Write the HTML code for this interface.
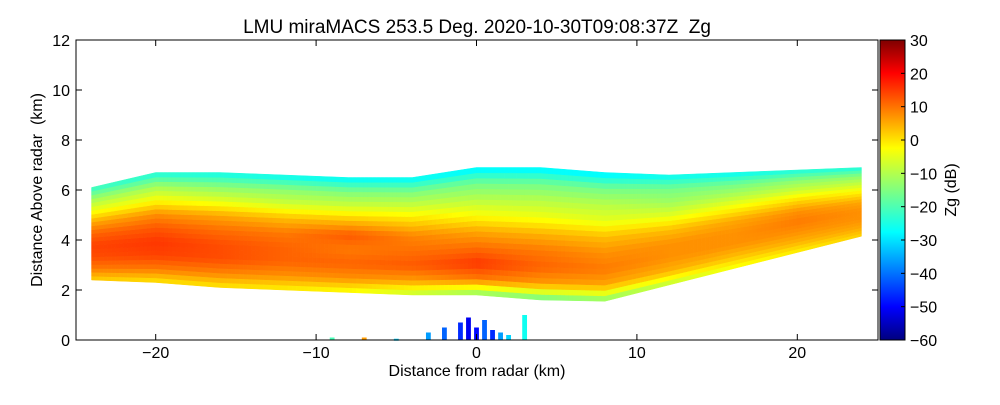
<!DOCTYPE html>
<html><head><meta charset="utf-8"><style>
body{margin:0;background:#fff;}
svg text{font-family:"Liberation Sans",sans-serif;fill:#000;}
</style></head><body>
<svg id="chart" width="1000" height="400" xmlns="http://www.w3.org/2000/svg">
<defs>
<linearGradient id="jet" x1="0" y1="1" x2="0" y2="0">
<stop offset="0" stop-color="#00007f"/><stop offset="0.11" stop-color="#0000ff"/>
<stop offset="0.36" stop-color="#00ffff"/><stop offset="0.5" stop-color="#80ff80"/>
<stop offset="0.64" stop-color="#ffff00"/><stop offset="0.89" stop-color="#ff0000"/>
<stop offset="1" stop-color="#7f0000"/></linearGradient>
</defs>
<text x="477" y="33" font-size="19" text-anchor="middle">LMU miraMACS 253.5 Deg. 2020-10-30T09:08:37Z&#160;&#160;Zg</text>
<g id="marks"></g>
<rect x="76" y="40" width="802" height="300" fill="none" stroke="#000" stroke-width="1"/>
<g id="axes"></g>
<rect x="880" y="40" width="25" height="300" fill="url(#jet)" stroke="#000"/>
<g id="cbar"></g>
<text x="477" y="376" font-size="16" text-anchor="middle">Distance from radar (km)</text>
<text transform="translate(42,190) rotate(-90)" font-size="16" text-anchor="middle">Distance Above radar&#160;&#160;(km)</text>
<text transform="translate(956,190) rotate(-90)" font-size="16" text-anchor="middle">Zg (dB)</text>
</svg>
<script>
const colX=[-24,-20,-16,-12,-8,-4,0,4,8,12,16,20,24];
const bandBottom=[2.4,2.3,2.1,2.0,1.9,1.8,1.8,1.6,1.55,2.2,2.85,3.5,4.15];
const bandTop=[6.1,6.7,6.7,6.6,6.5,6.5,6.9,6.9,6.7,6.6,6.7,6.8,6.9];
const profiles=[
[0,8,12,13,10,4,-5,-12,-22],
[-2,8,13,14,11,6,-4,-12,-24],
[-2,7,12,12,9,4,-6,-14,-25],
[-3,6,10,10,8,2,-8,-14,-26],
[-5,6,10,8,11,2,-8,-15,-27],
[-10,5,11,9,7,0,-8,-15,-27],
[-15,8,14,9,4,-4,-10,-16,-28],
[-18,5,10,8,3,-5,-10,-16,-28],
[-15,4,8,6,2,-6,-10,-16,-28],
[-10,3,6,6,2,-6,-12,-16,-26],
[-5,2,6,6,4,-3,-10,-16,-26],
[-3,3,6,8,6,0,-8,-14,-24],
[0,4,6,6,4,-2,-8,-14,-24]];
const clutterX=[-5,-3,-2,-1,-0.5,0,0.5,1,1.5,2,3,-7,-9];
const clutterH=[0.05,0.3,0.5,0.7,0.9,0.5,0.8,0.4,0.3,0.2,1.0,0.1,0.1];
const clutterZ=[-30,-35,-40,-45,-50,-48,-40,-45,-35,-30,-25,5,-20];
const xTicks=[-20,-10,0,10,20];
const yTicks=[0,2,4,6,8,10,12];
const cTicks=[-60,-50,-40,-30,-20,-10,0,10,20,30];
const X=v=>476.5+v*16.04, Y=v=>340-v*25, C=v=>340-(v+60)*300/90;
function jet(v){let t=Math.max(0,Math.min(1,(v+60)/90));
 const f=(a)=>Math.max(0,Math.min(1,1.5-Math.abs(4*t-a)));
 return `rgb(${Math.round(255*f(3))},${Math.round(255*f(2))},${Math.round(255*f(1))})`;}
const NS="http://www.w3.org/2000/svg";
const g=document.getElementById('marks');
function lerp(a,b,t){return a+(b-a)*t;}
function at(x){let i=Math.min(colX.length-2,Math.max(0,Math.floor((x-colX[0])/4)));let t=(x-colX[i])/(colX[i+1]-colX[i]);return [i,t];}
const L=profiles[0].length, NV=24;
for(let x=colX[0];x<colX[colX.length-1]-1e-9;x+=0.25){
 const [i0,t0]=at(x),[i1,t1]=at(x+0.25);
 const b0=lerp(bandBottom[i0],bandBottom[i0+1],t0),tp0=lerp(bandTop[i0],bandTop[i0+1],t0);
 const b1=lerp(bandBottom[i1],bandBottom[i1+1],t1),tp1=lerp(bandTop[i1],bandTop[i1+1],t1);
 for(let k=0;k<NV;k++){
  const f0=k/NV,f1=(k+1)/NV,fm=(k+0.5)/NV*(L-1);
  const j=Math.min(L-2,Math.floor(fm)),u=fm-j;
  const va=lerp(profiles[i0][j],profiles[i0][j+1],u),vb=lerp(profiles[i0+1][j],profiles[i0+1][j+1],u);
  const v=lerp(va,vb,t0);
  const p=document.createElementNS(NS,'polygon');
  p.setAttribute('points',`${X(x)},${Y(lerp(b0,tp0,f0))} ${X(x+0.25)},${Y(lerp(b1,tp1,f0))} ${X(x+0.25)},${Y(lerp(b1,tp1,f1))} ${X(x)},${Y(lerp(b0,tp0,f1))}`);
  p.setAttribute('fill',jet(v));p.setAttribute('stroke',jet(v));p.setAttribute('stroke-width','0.5');
  
  
  g.appendChild(p);
 }
}
clutterX.forEach((cx,i)=>{const r=document.createElementNS(NS,'rect');
 r.setAttribute('x',X(cx-0.15));r.setAttribute('y',Y(clutterH[i]));r.setAttribute('width',16.04*0.3);r.setAttribute('height',Math.max(2,clutterH[i]*25));
 r.setAttribute('fill',jet(clutterZ[i]));
 
 
 g.appendChild(r);});
const ax=document.getElementById('axes');
function txt(parent,x,y,s,anchor,name){const t=document.createElementNS(NS,'text');t.setAttribute('x',x);t.setAttribute('y',y);t.setAttribute('font-size','16');t.setAttribute('text-anchor',anchor);t.textContent=s;
 
 
 parent.appendChild(t);}
function line(parent,x1,y1,x2,y2){const l=document.createElementNS(NS,'line');l.setAttribute('x1',x1);l.setAttribute('y1',y1);l.setAttribute('x2',x2);l.setAttribute('y2',y2);l.setAttribute('stroke','#000');
 
 
 parent.appendChild(l);}
xTicks.forEach(v=>{line(ax,X(v),340,X(v),334);line(ax,X(v),40,X(v),46);txt(ax,X(v),358,v<0?'\u2212'+(-v):v,'middle','x-tick-label');});
yTicks.forEach(v=>{line(ax,76,Y(v),82,Y(v));line(ax,878,Y(v),872,Y(v));txt(ax,70,Y(v)+6,v,'end','y-tick-label');});
const cb=document.getElementById('cbar');
cTicks.forEach(v=>{line(cb,905,C(v),901,C(v));txt(cb,910,C(v)+6,v<0?'\u2212'+(-v):v,'start','colorbar-tick-label');});
</script>
</body></html>
